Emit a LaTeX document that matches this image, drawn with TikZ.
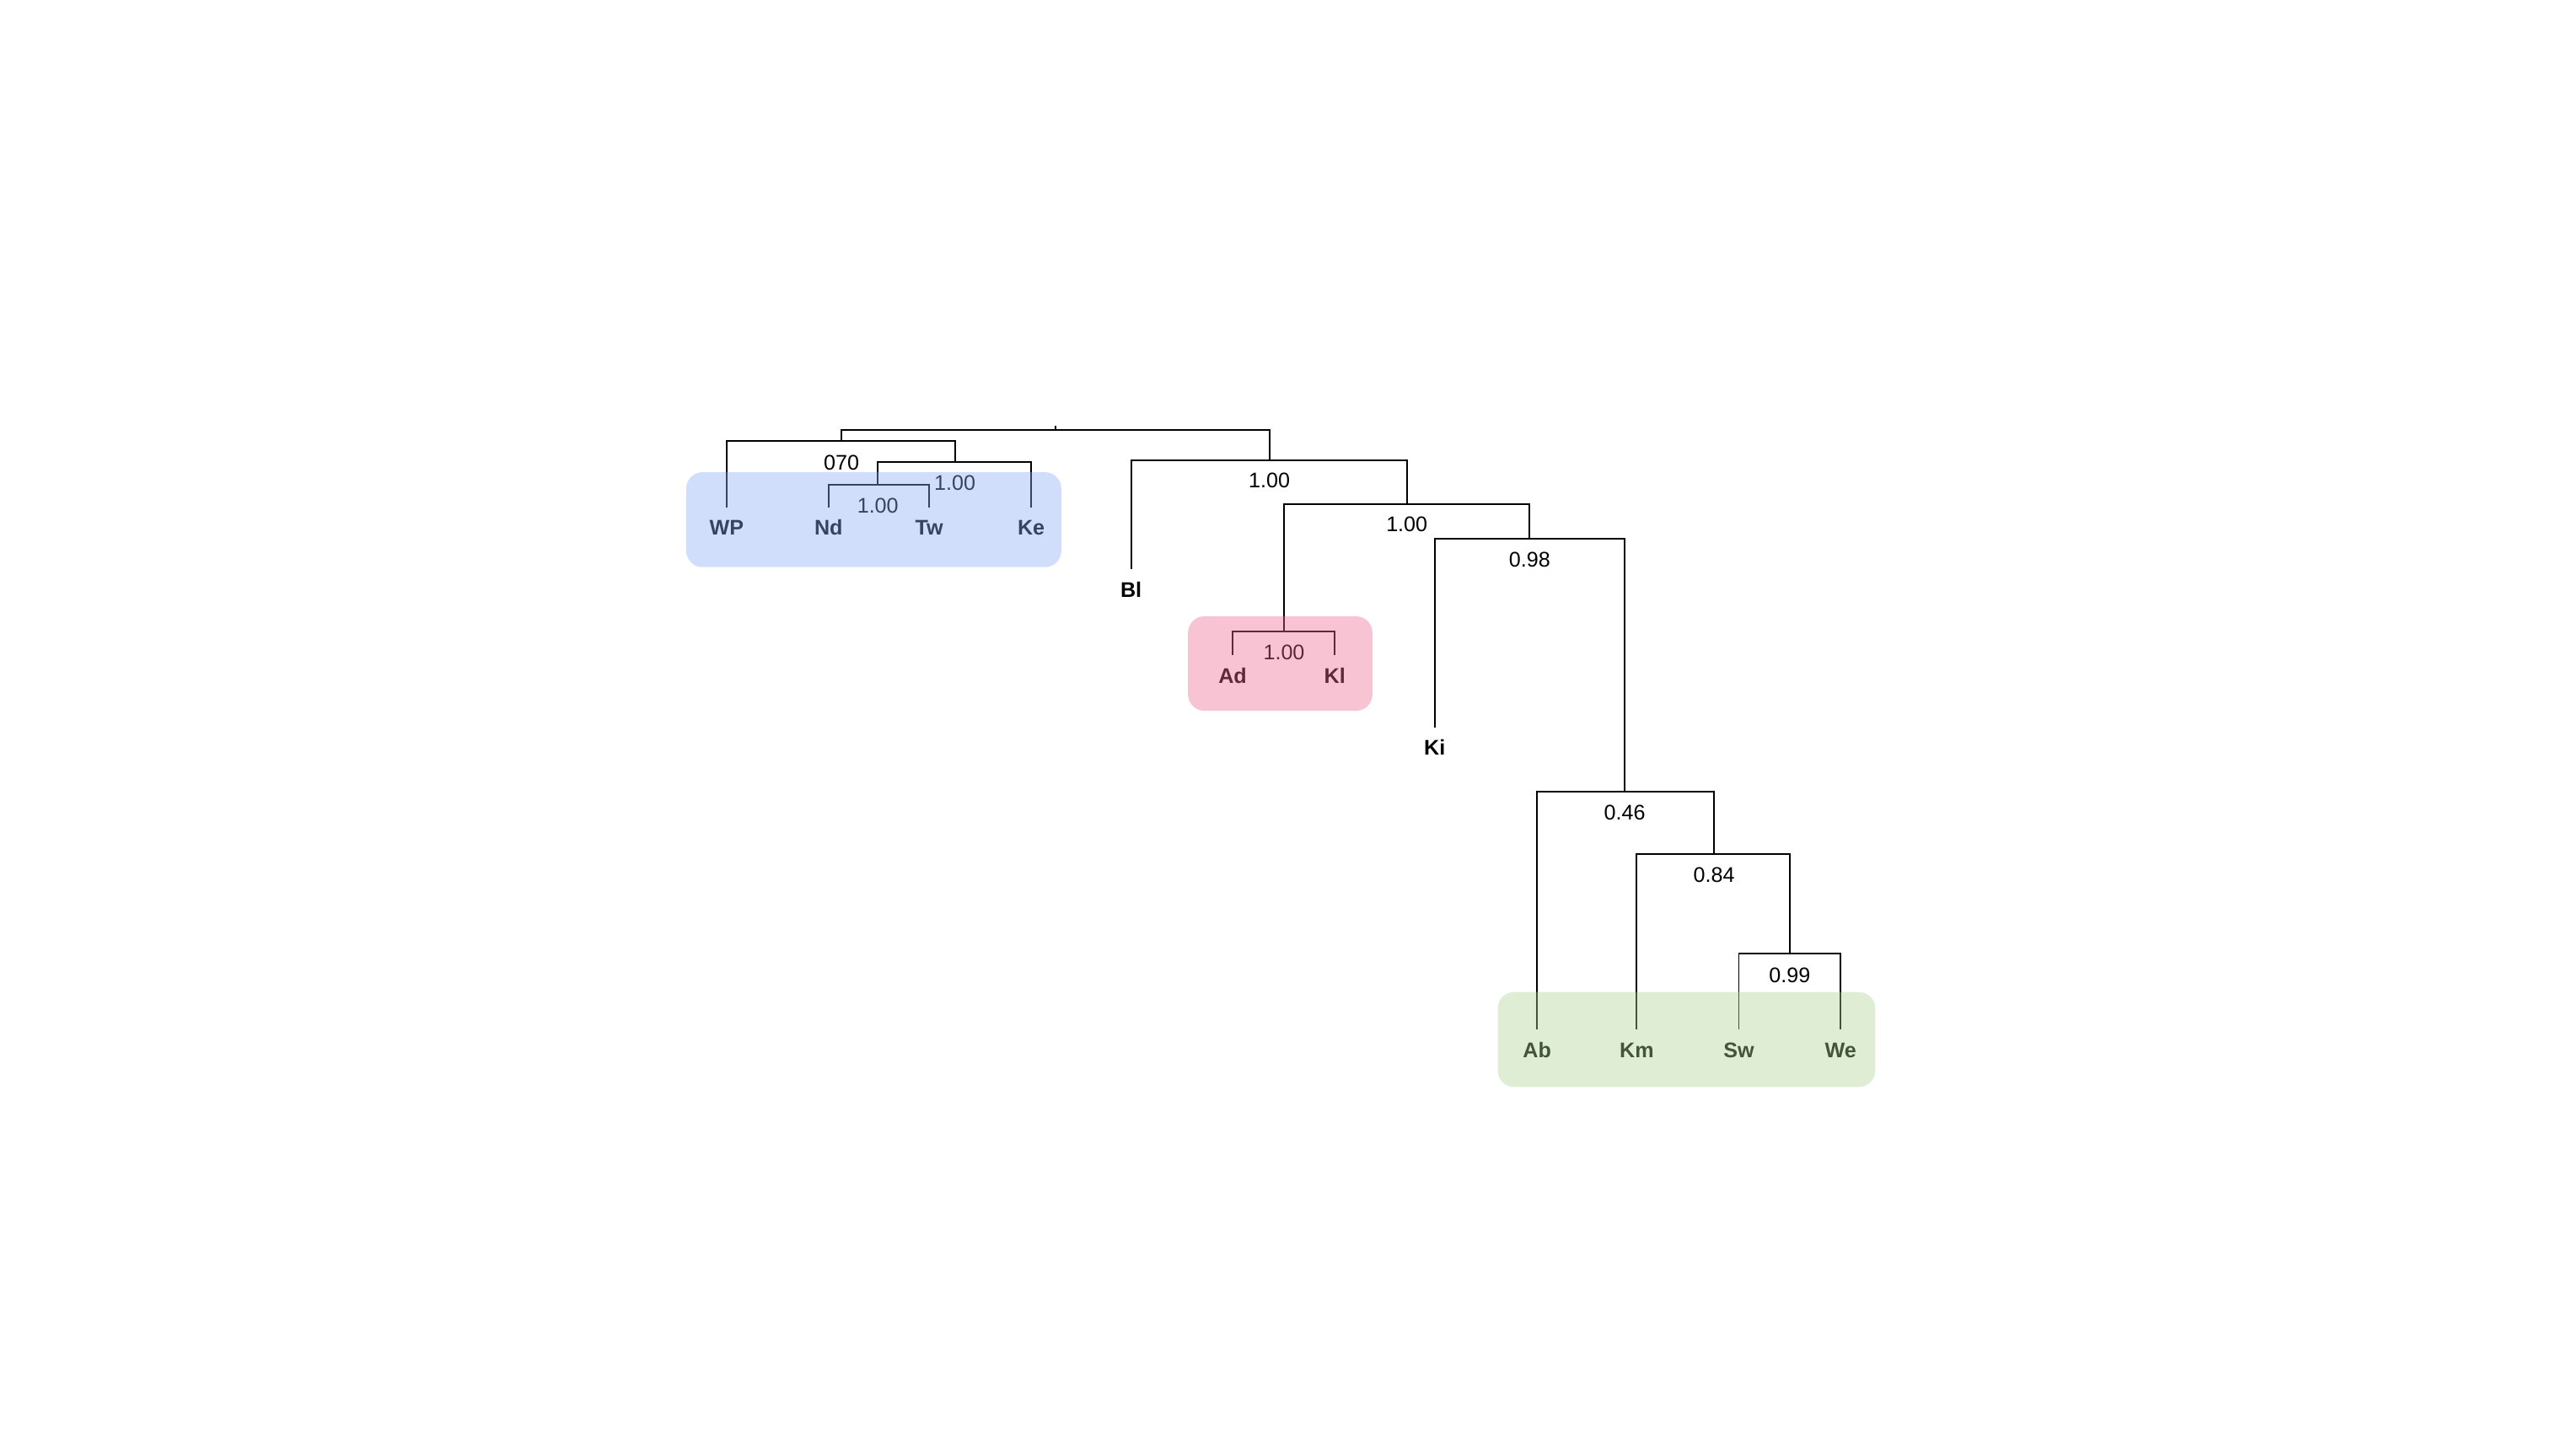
\documentclass[tikz,border=0pt]{standalone}
\usepackage{fontspec}
\setmainfont{Liberation Sans}
\begin{document}
\begin{tikzpicture}[x=0.75pt,y=-0.75pt,
  branch/.style={draw=black,line width=0.75pt},
  leaflab/.style={font=\fontsize{9.7}{11}\selectfont\bfseries,inner sep=0pt},
  supp/.style={font=\fontsize{9.7}{11}\selectfont,inner sep=0pt},
  grp/.style={rounded corners=7.5pt,fill opacity=0.4,draw=none},
  bluegrp/.style={grp,fill={rgb,255:red,137;green,172;blue,247}},
  pinkgrp/.style={grp,fill={rgb,255:red,237;green,107;blue,148}},
  greengrp/.style={grp,fill={rgb,255:red,172;green,210;blue,147}}]
\useasboundingbox (0,0) rectangle (1568,889);
% internal nodes
\coordinate (r) at (644.5,262.5);
\coordinate (rt) at (644.5,260);
\coordinate (A) at (513.8,269);
\coordinate (C) at (583.3,282);
\coordinate (D) at (536,296);
\coordinate (B) at (775,281);
\coordinate (E) at (859,307.7);
\coordinate (F) at (784,385.7);
\coordinate (G) at (934,329);
\coordinate (H) at (992,483.5);
\coordinate (I) at (1046.6,521.3);
\coordinate (J) at (1092.8,582);
% leaf ends
\coordinate (wp) at (443.7,310);
\coordinate (nd) at (505.9,310);
\coordinate (tw) at (567.3,310);
\coordinate (ke) at (629.6,310);
\coordinate (bl) at (690.6,347.5);
\coordinate (ad) at (752.6,400);
\coordinate (kl) at (815,400);
\coordinate (ki) at (876,444);
\coordinate (ab) at (938.5,628.5);
\coordinate (km) at (999.4,628.5);
\coordinate (sw) at (1061.7,628.5);
\coordinate (we) at (1123.9,628.5);
% branches
\draw[branch] (rt) -- (r);
\draw[branch] (r) -| (A);
\draw[branch] (r) -| (B);
\draw[branch] (A) -| (wp);
\draw[branch] (A) -| (C);
\draw[branch] (C) -| (D);
\draw[branch] (C) -| (ke);
\draw[branch] (D) -| (nd);
\draw[branch] (D) -| (tw);
\draw[branch] (B) -| (bl);
\draw[branch] (B) -| (E);
\draw[branch] (E) -| (F);
\draw[branch] (E) -| (G);
\draw[branch] (F) -| (ad);
\draw[branch] (F) -| (kl);
\draw[branch] (G) -| (ki);
\draw[branch] (G) -| (H);
\draw[branch] (H) -| (ab);
\draw[branch] (H) -| (I);
\draw[branch] (I) -| (km);
\draw[branch] (I) -| (J);
\draw[branch] (J) -| (sw);
\draw[branch] (J) -| (we);
% support values
\node[supp] (sA) at (513.8,282.3) {070};
\node[supp] (sC) at (583,295) {1.00};
\node[supp] (sD) at (536,309) {1.00};
\node[supp] (sB) at (775,293.4) {1.00};
\node[supp] (sE) at (859,320) {1.00};
\node[supp] (sF) at (784,398.4) {1.00};
\node[supp] (sG) at (934,341.5) {0.98};
\node[supp] (sH) at (992,496.4) {0.46};
\node[supp] (sI) at (1046.6,534) {0.84};
\node[supp] (sJ) at (1092.8,595.4) {0.99};
% leaf labels
\node[leaflab] (lwp) at (443.7,322.2) {WP};
\node[leaflab] (lnd) at (505.9,322.2) {Nd};
\node[leaflab] (ltw) at (567.3,322.2) {Tw};
\node[leaflab] (lke) at (629.6,322.2) {Ke};
\node[leaflab] (lbl) at (690.6,359.8) {Bl};
\node[leaflab] (lad) at (752.6,412.7) {Ad};
\node[leaflab] (lkl) at (815,412.7) {Kl};
\node[leaflab] (lki) at (876,456.4) {Ki};
\node[leaflab] (lab) at (938.5,641.2) {Ab};
\node[leaflab] (lkm) at (999.4,641.2) {Km};
\node[leaflab] (lsw) at (1061.7,641.2) {Sw};
\node[leaflab] (lwe) at (1123.9,641.2) {We};
% group boxes (translucent overlays)
\path[bluegrp] (419,288.3) rectangle (648,346.3);
\path[pinkgrp] (725.4,376.3) rectangle (838,434);
\path[greengrp] (914.5,605.7) rectangle (1145,663.7);
\end{tikzpicture}
\end{document}
